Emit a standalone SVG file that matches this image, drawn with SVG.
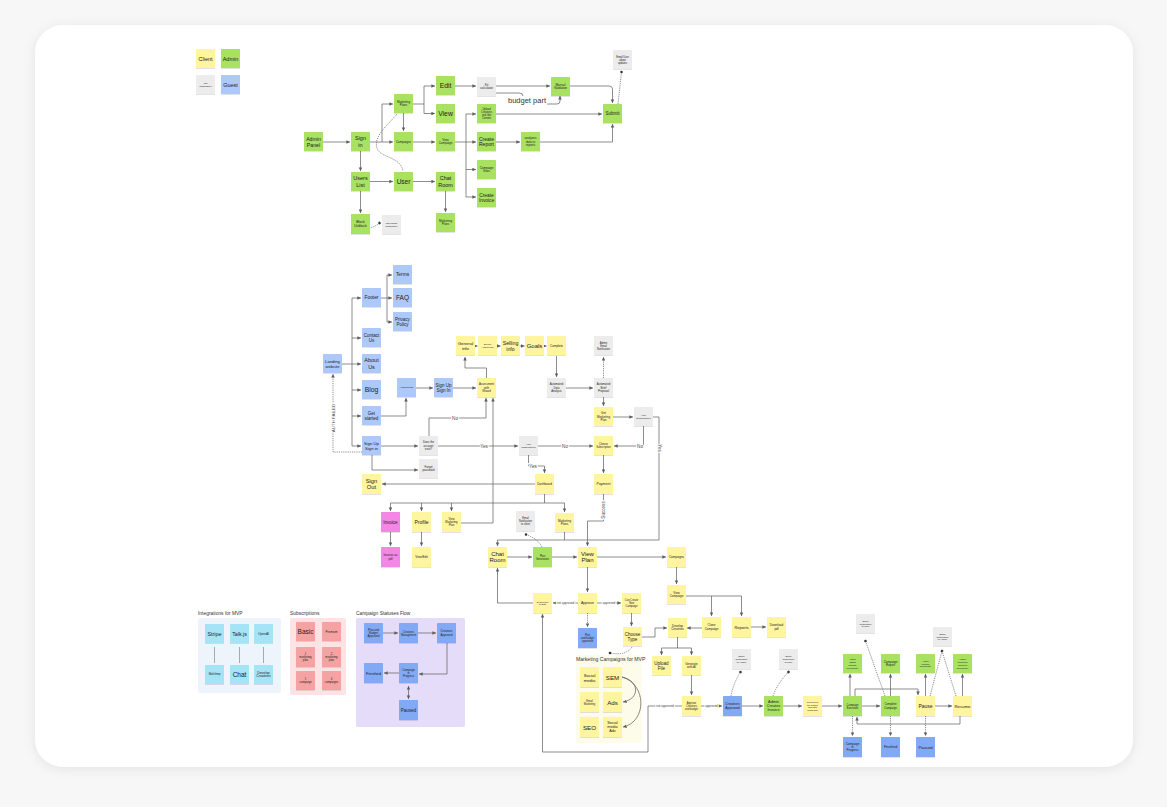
<svg xmlns="http://www.w3.org/2000/svg" width="1167" height="807" viewBox="0 0 1167 807">
<style>
.n{filter:url(#sh)}
.y{fill:#fff59f}.g{fill:#a9e160}.gr{fill:#ececec}.b{fill:#adc9f9}.b2{fill:#82a9f3}.p{fill:#f487e5}.c{fill:#a5e3f7}.s{fill:#f5a2a2}
text{font-family:"Liberation Sans",Arial,sans-serif;fill:#222;text-anchor:middle;dominant-baseline:central}
.ttl{text-anchor:start;dominant-baseline:auto;font-size:4.9px;fill:#333}
.ln{fill:none;stroke:#5c5c5c;stroke-width:0.7}
.ar{marker-end:url(#a)}
.dt{marker-end:url(#d)}
.da{stroke-dasharray:1.2 1}
.lb{font-size:4.6px;fill:#444;stroke:#fff;stroke-width:2.2;paint-order:stroke}
</style>
<defs>
<filter id="sh" x="-20%" y="-20%" width="140%" height="150%"><feDropShadow dx="0" dy="0.6" stdDeviation="0.5" flood-color="#000" flood-opacity="0.18"/></filter>
<filter id="cs" x="-5%" y="-5%" width="110%" height="110%"><feDropShadow dx="0" dy="2" stdDeviation="6" flood-color="#000" flood-opacity="0.08"/></filter>
<marker id="a" markerUnits="userSpaceOnUse" markerWidth="4" markerHeight="4" refX="3.6" refY="1.75" orient="auto"><path d="M0,0 L3.6,1.75 L0,3.5 z" fill="#5c5c5c"/></marker>
<marker id="a2" markerUnits="userSpaceOnUse" markerWidth="4" markerHeight="4" refX="0" refY="1.75" orient="auto"><path d="M3.6,0 L0,1.75 L3.6,3.5 z" fill="#5c5c5c"/></marker>
<marker id="d" markerUnits="userSpaceOnUse" markerWidth="4" markerHeight="4" refX="2" refY="2" orient="auto"><circle cx="2" cy="2" r="1.3" fill="#333"/></marker>
</defs>
<rect x="0" y="0" width="1167" height="807" fill="#f7f7f7"/>
<rect x="35" y="25" width="1098" height="742" rx="28" fill="#fff" filter="url(#cs)"/>

<!-- panels -->
<g id="panel-integrations"><rect x="198" y="618" width="83" height="75" rx="2" fill="#eef4fc"/><text class="ttl" x="198" y="615">Integrations for MVP</text></g>
<g id="panel-subscriptions"><rect x="290" y="618" width="56" height="77" rx="2" fill="#fde3e3"/><text class="ttl" x="290" y="615">Subscriptions</text></g>
<g id="panel-statuses"><rect x="356" y="618" width="109" height="109" rx="2" fill="#e4dcf8"/><text class="ttl" x="356" y="615">Campaign Statuses Flow</text></g>
<g id="panel-mc"><rect x="576" y="655" width="66" height="88" rx="2" fill="#fdfbea"/><text class="ttl" x="576" y="661" style="font-size:5.1px">Marketing Campaigns for MVP</text></g>

<g id="connectors">
<!-- admin -->
<path class="ln ar" d="M323,142 H350"/>
<path class="ln ar" d="M370,142 H393"/>
<path class="ln ar" d="M382,142 V104 H393"/>
<path class="ln ar" d="M403.5,113 V131"/>
<path class="ln ar" d="M360.5,151 V171"/>
<path class="ln ar" d="M370,181.5 H393"/>
<path class="ln ar" d="M413,181.5 H435"/>
<path class="ln ar" d="M445.5,191 V212"/>
<path class="ln ar" d="M360.5,191 V213"/>
<path class="ln ar" d="M413,142 H435"/>
<path class="ln" d="M413,104 H424"/>
<path class="ln ar" d="M424,104 V86 H435"/>
<path class="ln ar" d="M424,104 V113.5 H435"/>
<path class="ln da" d="M397,114 C389,124 373,136 377,148 C380,158 400,156 403,171"/>
<path class="ln da dt" d="M369,228 Q375,227 379.5,223"/>
<path class="ln ar" d="M455,86 H476"/>
<path class="ln ar" d="M496,86 H550"/>
<path class="ln" d="M496,93 H519 Q523,93 523,96"/>
<path class="ln ar" d="M547,104 H557 Q560,104 560,101 V96"/>
<path class="ln ar" d="M569,86 H609 Q612.5,86 612.5,89 V103"/>
<path class="ln ar" d="M496,114 H602"/>
<path class="ln" d="M455,142 H466 M466,114 V197"/>
<path class="ln ar" d="M466,114 H476"/>
<path class="ln ar" d="M466,142 H476"/>
<path class="ln ar" d="M466,169.5 H476"/>
<path class="ln ar" d="M466,197 H476"/>
<path class="ln ar" d="M496,142 H520"/>
<path class="ln ar" d="M540,142 H612.5 V124"/>
<path class="ln da dt" d="M618,104 L621.5,72"/>
<!-- landing -->
<path class="ln" d="M342,364 H352 M352,298 V446"/>
<path class="ln ar" d="M352,298 H361"/>
<path class="ln ar" d="M352,338 H361"/>
<path class="ln ar" d="M352,364 H361"/>
<path class="ln ar" d="M352,390 H361"/>
<path class="ln ar" d="M352,416 H361"/>
<path class="ln ar" d="M352,446 H361"/>
<path class="ln" d="M381,298 H387 M387,275 V322"/>
<path class="ln ar" d="M387,275 H392"/>
<path class="ln ar" d="M387,298 H392"/>
<path class="ln ar" d="M387,322 H392"/>
<path class="ln ar" d="M381,416 H406 V398"/>
<path class="ln ar" d="M415,388 H433"/>
<path class="ln ar" d="M381,446 H418"/>
<path class="ln ar" d="M372,455 V470 H418"/>
<path class="ln da ar" d="M362,452 H333 V374"/>
<path class="ln ar" d="M453,388 H476"/>
<path class="ln ar" d="M486.5,378 V368 H465 V357"/>
<path class="ln ar" d="M475,346 H477.5"/>
<path class="ln ar" d="M497,346 H500.5"/>
<path class="ln ar" d="M520,346 H524.5"/>
<path class="ln ar" d="M544,346 H546.5"/>
<path class="ln ar" d="M556.5,356 V377"/>
<path class="ln ar" d="M566,388 H593"/>
<path class="ln da ar" d="M603.5,378 V357"/>
<path class="ln ar" d="M603.5,397 V406"/>
<path class="ln ar" d="M613,417 H633"/>
<path class="ln ar" d="M643.5,426 V446 H614"/>
<path class="ln ar" d="M438,446 H518"/>
<path class="ln ar" d="M538,446 H593"/>
<path class="ln ar" d="M528.5,455 V466 H544.5 V473"/>
<path class="ln ar" d="M429,436 V418 H486 V398"/>
<path class="ln ar" d="M535,484 H382"/>
<path class="ln ar" d="M461,523 H493 V398"/>
<path class="ln" d="M544.5,494 V503 M390.5,503 H564.5"/>
<path class="ln ar" d="M390.5,503 V511"/>
<path class="ln ar" d="M421.5,503 V511"/>
<path class="ln ar" d="M451.5,503 V511"/>
<path class="ln ar" d="M564.5,503 V512"/>
<path class="ln ar" d="M390.5,532 V546"/>
<path class="ln ar" d="M421.5,532 V546"/>
<path class="ln ar" d="M603.5,455 V473"/>
<path class="ln ar" d="M603.5,494 V521 H587.5 V546"/>
<path class="ln ar" d="M653,417 H659 V540 H497.5 V546"/>
<path class="ln" d="M564.5,532 V540"/>
<path class="ln ar" d="M507,557 H532"/>
<path class="ln ar" d="M552,557 H577"/>
<path class="ln ar" d="M597,557 H666"/>
<path class="ln ar" d="M676.5,567 V584"/>
<path class="ln da dt" d="M542,547 Q538,539 526,534.5"/>
<!-- plan / campaigns -->
<path class="ln ar" d="M587.5,567 V592"/>
<path class="ln ar" d="M578,603 H553"/>
<path class="ln ar" d="M533,603 H497.5 V568"/>
<path class="ln ar" d="M597,603 H621"/>
<path class="ln da ar" d="M587.5,613 V627"/>
<path class="ln ar" d="M631.5,613 V626"/>
<path class="ln ar" d="M642,637 H655 V628 H667"/>
<path class="ln" d="M686,596 H741.5"/>
<path class="ln ar" d="M711.5,596 V616"/>
<path class="ln ar" d="M741.5,596 V616"/>
<path class="ln ar" d="M751,627 H766"/>
<path class="ln ar" d="M702,628 H687"/>
<path class="ln" d="M677.5,637 V648 M661.5,648 H691.5"/>
<path class="ln ar" d="M661.5,648 V655"/>
<path class="ln ar" d="M691.5,648 V655"/>
<path class="ln ar" d="M691.5,675 V695"/>
<path class="ln da dt" d="M632,647 Q626,656 610,653"/>
<path class="ln ar" d="M622,677 C640,681 640,699 623,702"/>
<path class="ln ar" d="M622,677 C647,684 647,722 623,727"/>
<path class="ln ar" d="M682,706 H648 V752 H542.5 V614"/>
<path class="ln ar" d="M701,706 H722"/>
<path class="ln ar" d="M742,706 H763"/>
<path class="ln ar" d="M783,706 H802"/>
<path class="ln ar" d="M822,706 H842"/>
<path class="ln da dt" d="M731,696 Q733,684 740.5,672"/>
<path class="ln da dt" d="M773,696 Q777,684 788.5,672"/>
<path class="ln ar" d="M862,706 H880"/>
<path class="ln ar" d="M935,706 H952"/>
<path class="ln ar" d="M850,696 V674"/>
<path class="ln ar" d="M855,696 V689 H918 V695"/>
<path class="ln ar" d="M890.5,696 V674"/>
<path class="ln ar" d="M925.5,696 V674"/>
<path class="ln ar" d="M962.5,696 V674"/>
<path class="ln ar" d="M960,716 V724 H857 V717"/>
<path class="ln da ar" d="M852.5,716 V736"/>
<path class="ln da ar" d="M890.5,716 V736"/>
<path class="ln da ar" d="M925.5,716 V736"/>
<path class="ln da dt" d="M885,696 L865.5,641"/>
<path class="ln da dt" d="M930,696 L942,651"/>
<path class="ln da" d="M956,696 L942,651"/>
<!-- legend -->
<path class="ln" d="M214.5,647 V663 M239.5,647 V663 M263.5,647 V663" style="stroke:#888"/>
<path class="ln ar" d="M383,633 H398"/>
<path class="ln ar" d="M418,633 H436"/>
<path class="ln ar" d="M447,643 V674 H419"/>
<path class="ln ar" d="M399,673 H384"/>
<path class="ln ar" d="M408.5,686 V699" style="marker-start:url(#a2)"/>
<!-- labels -->
<text class="lb" x="527" y="100" style="font-size:7.5px;fill:#333">budget part</text>
<text class="lb" x="333" y="418" transform="rotate(-90 333 418)" style="font-size:4.4px">AUTH FAILED</text>
<text class="lb" x="455" y="418">No</text>
<text class="lb" x="484" y="446">Yes</text>
<text class="lb" x="565" y="446">No</text>
<text class="lb" x="640" y="446">No</text>
<text class="lb" x="533" y="466">Yes</text>
<text class="lb" x="659" y="448" transform="rotate(90 659 448)">Yes</text>
<text class="lb" x="603.5" y="510" transform="rotate(-90 603.5 510)">Success</text>
<text class="lb" x="565.5" y="603" style="font-size:3px">not approved</text>
<text class="lb" x="609" y="603" style="font-size:3px">approved</text>
<text class="lb" x="665" y="706" style="font-size:3px">not approved</text>
<text class="lb" x="711.5" y="706" style="font-size:3px">approved</text>
</g>

<!-- legend -->
<g id="leg-client"><rect class="n y" x="196" y="49" width="19" height="19" rx="0.6"/><text x="205.5" y="58.5" font-size="5.5">Client</text></g>
<g id="leg-admin"><rect class="n g" x="221" y="49" width="19" height="19" rx="0.6"/><text x="230.5" y="58.5" font-size="5.5">Admin</text></g>
<g id="leg-notsub"><rect class="n gr" x="196" y="75" width="19" height="19" rx="0.6"/><text x="205.5" y="84.5" font-size="2.4"><tspan x="205.5" dy="-1.4">Not</tspan><tspan x="205.5" dy="2.8">submission</tspan></text></g>
<g id="leg-guest"><rect class="n b" x="221" y="75" width="19" height="19" rx="0.6"/><text x="230.5" y="84.5" font-size="5.5">Guest</text></g>

<!-- admin panel flow -->
<g id="admin-panel"><rect class="n g" x="304" y="132" width="19" height="19" rx="0.6"/><text x="313.5" y="141.5" font-size="5.2"><tspan x="313.5" dy="-3">Admin</tspan><tspan x="313.5" dy="6">Panel</tspan></text></g>
<g id="sign-in-admin"><rect class="n g" x="351" y="132" width="19" height="19" rx="0.6"/><text x="360.5" y="141.5" font-size="5.5"><tspan x="360.5" dy="-3.15">Sign</tspan><tspan x="360.5" dy="6.3">in</tspan></text></g>
<g id="marketing-plans-a"><rect class="n g" x="394" y="94" width="19" height="19" rx="0.6"/><text x="403.5" y="103.5" font-size="3"><tspan x="403.5" dy="-1.7">Marketing</tspan><tspan x="403.5" dy="3.4">Plans</tspan></text></g>
<g id="campaigns-a"><rect class="n g" x="394" y="132" width="19" height="19" rx="0.6"/><text x="403.5" y="141.5" font-size="3">Campaigns</text></g>
<g id="edit"><rect class="n g" x="436" y="76" width="19" height="19" rx="0.6"/><text x="445.5" y="85.5" font-size="6.8">Edit</text></g>
<g id="view-a"><rect class="n g" x="436" y="104" width="19" height="19" rx="0.6"/><text x="445.5" y="113.5" font-size="6.8">View</text></g>
<g id="view-campaign-a"><rect class="n g" x="436" y="132" width="19" height="19" rx="0.6"/><text x="445.5" y="141.5" font-size="3"><tspan x="445.5" dy="-1.7">View</tspan><tspan x="445.5" dy="3.4">Campaign</tspan></text></g>
<g id="users-list"><rect class="n g" x="351" y="172" width="19" height="19" rx="0.6"/><text x="360.5" y="181.5" font-size="5.5"><tspan x="360.5" dy="-3.15">Users</tspan><tspan x="360.5" dy="6.3">List</tspan></text></g>
<g id="user"><rect class="n g" x="394" y="172" width="19" height="19" rx="0.6"/><text x="403.5" y="181.5" font-size="6.5">User</text></g>
<g id="chat-room-a"><rect class="n g" x="436" y="172" width="19" height="19" rx="0.6"/><text x="445.5" y="181.5" font-size="5.5"><tspan x="445.5" dy="-3.15">Chat</tspan><tspan x="445.5" dy="6.3">Room</tspan></text></g>
<g id="block-unblock"><rect class="n g" x="351" y="214" width="19" height="20" rx="0.6"/><text x="360.5" y="224" font-size="3.5"><tspan x="360.5" dy="-2">Block</tspan><tspan x="360.5" dy="4">Unblock</tspan></text></g>
<g id="user-email"><rect class="n gr" x="382" y="215" width="19" height="19" rx="0.6"/><text x="391.5" y="224.5" font-size="2.4"><tspan x="391.5" dy="-1.4">User Email</tspan><tspan x="391.5" dy="2.8">Notification</tspan></text></g>
<g id="marketing-plans-b"><rect class="n g" x="436" y="213" width="19" height="19" rx="0.6"/><text x="445.5" y="222.5" font-size="3"><tspan x="445.5" dy="-1.7">Marketing</tspan><tspan x="445.5" dy="3.4">Plans</tspan></text></g>
<g id="kit-calculator"><rect class="n gr" x="477" y="77" width="19" height="19" rx="0.6"/><text x="486.5" y="86.5" font-size="3"><tspan x="486.5" dy="-1.7">Kit</tspan><tspan x="486.5" dy="3.4">calculator</tspan></text></g>
<g id="manual-validation"><rect class="n g" x="551" y="77" width="19" height="19" rx="0.6"/><text x="560.5" y="86.5" font-size="3"><tspan x="560.5" dy="-1.7">Manual</tspan><tspan x="560.5" dy="3.4">Validation</tspan></text></g>
<g id="submit"><rect class="n g" x="603" y="104" width="19" height="19" rx="0.6"/><text x="612.5" y="113.5" font-size="4.5">Submit</text></g>
<g id="email-updates"><rect class="n gr" x="613" y="50" width="19" height="19" rx="0.6"/><text x="622.5" y="59.5" font-size="2.6"><tspan x="622.5" dy="-3">Email User</tspan><tspan x="622.5" dy="3">about</tspan><tspan x="622.5" dy="3">updates</tspan></text></g>
<g id="upload-creatives"><rect class="n g" x="477" y="104" width="19" height="19" rx="0.6"/><text x="486.5" y="113.5" font-size="2.6"><tspan x="486.5" dy="-4.5">Upload</tspan><tspan x="486.5" dy="3">Creatives</tspan><tspan x="486.5" dy="3">and Get</tspan><tspan x="486.5" dy="3">Content</tspan></text></g>
<g id="create-report"><rect class="n g" x="477" y="132" width="19" height="19" rx="0.6"/><text x="486.5" y="141.5" font-size="5"><tspan x="486.5" dy="-2.9">Create</tspan><tspan x="486.5" dy="5.8">Report</tspan></text></g>
<g id="analyzes"><rect class="n g" x="521" y="132" width="19" height="19" rx="0.6"/><text x="530.5" y="141.5" font-size="3"><tspan x="530.5" dy="-3.4">analyzes</tspan><tspan x="530.5" dy="3.4">data to</tspan><tspan x="530.5" dy="3.4">reports</tspan></text></g>
<g id="campaign-stats"><rect class="n g" x="477" y="160" width="19" height="19" rx="0.6"/><text x="486.5" y="169.5" font-size="3"><tspan x="486.5" dy="-1.7">Campaign</tspan><tspan x="486.5" dy="3.4">Stats</tspan></text></g>
<g id="create-invoice"><rect class="n g" x="477" y="188" width="19" height="19" rx="0.6"/><text x="486.5" y="197.5" font-size="4.8"><tspan x="486.5" dy="-2.75">Create</tspan><tspan x="486.5" dy="5.5">Invoice</tspan></text></g>

<!-- landing -->
<g id="terms"><rect class="n b" x="393" y="265" width="19" height="19" rx="0.6"/><text x="402.5" y="274.5" font-size="4.8">Terms</text></g>
<g id="faq"><rect class="n b" x="393" y="288" width="19" height="19" rx="0.6"/><text x="402.5" y="297.5" font-size="6.5">FAQ</text></g>
<g id="privacy"><rect class="n b" x="393" y="312" width="19" height="19" rx="0.6"/><text x="402.5" y="321.5" font-size="4.5"><tspan x="402.5" dy="-2.6">Privacy</tspan><tspan x="402.5" dy="5.2">Policy</tspan></text></g>
<g id="footer"><rect class="n b" x="362" y="288" width="19" height="19" rx="0.6"/><text x="371.5" y="297.5" font-size="4.8">Footer</text></g>
<g id="contact"><rect class="n b" x="362" y="328" width="19" height="19" rx="0.6"/><text x="371.5" y="337.5" font-size="4.5"><tspan x="371.5" dy="-2.6">Contact</tspan><tspan x="371.5" dy="5.2">Us</tspan></text></g>
<g id="about"><rect class="n b" x="362" y="354" width="19" height="19" rx="0.6"/><text x="371.5" y="363.5" font-size="5.5"><tspan x="371.5" dy="-3.15">About</tspan><tspan x="371.5" dy="6.3">Us</tspan></text></g>
<g id="blog"><rect class="n b" x="362" y="380" width="19" height="19" rx="0.6"/><text x="371.5" y="389.5" font-size="6.8">Blog</text></g>
<g id="get-started"><rect class="n b" x="362" y="406" width="19" height="19" rx="0.6"/><text x="371.5" y="415.5" font-size="4.5"><tspan x="371.5" dy="-2.6">Get</tspan><tspan x="371.5" dy="5.2">started</tspan></text></g>
<g id="signup-a"><rect class="n b" x="362" y="436" width="19" height="19" rx="0.6"/><text x="371.5" y="445.5" font-size="4.2"><tspan x="371.5" dy="-2.4">Sign Up</tspan><tspan x="371.5" dy="4.8">Sign in</tspan></text></g>
<g id="landing"><rect class="n b" x="323" y="354" width="19" height="19" rx="0.6"/><text x="332.5" y="363.5" font-size="4.2"><tspan x="332.5" dy="-2.4">Landing</tspan><tspan x="332.5" dy="4.8">website</tspan></text></g>
<g id="sign-out"><rect class="n y" x="362" y="474" width="19" height="20" rx="0.6"/><text x="371.5" y="484" font-size="5.8"><tspan x="371.5" dy="-3.3">Sign</tspan><tspan x="371.5" dy="6.6">Out</tspan></text></g>
<g id="authenticate"><rect class="n b" x="397" y="378" width="19" height="19" rx="0.6"/><text x="406.5" y="387.5" font-size="2.5">Authenticate</text></g>
<g id="signup-b"><rect class="n b" x="434" y="378" width="19" height="19" rx="0.6"/><text x="443.5" y="387.5" font-size="4.5"><tspan x="443.5" dy="-2.6">Sign Up</tspan><tspan x="443.5" dy="5.2">Sign In</tspan></text></g>
<g id="account-exist"><rect class="n gr" x="419" y="436" width="19" height="19" rx="0.6"/><text x="428.5" y="445.5" font-size="2.8"><tspan x="428.5" dy="-3.2">Does the</tspan><tspan x="428.5" dy="3.2">account</tspan><tspan x="428.5" dy="3.2">exist?</tspan></text></g>
<g id="forgot"><rect class="n gr" x="419" y="459" width="19" height="19" rx="0.6"/><text x="428.5" y="468.5" font-size="2.8"><tspan x="428.5" dy="-1.6">Forgot</tspan><tspan x="428.5" dy="3.2">password</tspan></text></g>
<g id="general-info"><rect class="n y" x="456" y="336" width="19" height="19" rx="0.6"/><text x="465.5" y="345.5" font-size="4.4"><tspan x="465.5" dy="-2.5">General</tspan><tspan x="465.5" dy="5">info</tspan></text></g>
<g id="source"><rect class="n y" x="478" y="336" width="19" height="19" rx="0.6"/><text x="487.5" y="345.5" font-size="2.4"><tspan x="487.5" dy="-1.4">Source</tspan><tspan x="487.5" dy="2.8">Awareness</tspan></text></g>
<g id="selling"><rect class="n y" x="501" y="336" width="19" height="19" rx="0.6"/><text x="510.5" y="345.5" font-size="5.2"><tspan x="510.5" dy="-3">Selling</tspan><tspan x="510.5" dy="6">info</tspan></text></g>
<g id="goals"><rect class="n y" x="525" y="336" width="19" height="19" rx="0.6"/><text x="534.5" y="345.5" font-size="6">Goals</text></g>
<g id="complete"><rect class="n y" x="547" y="336" width="19" height="19" rx="0.6"/><text x="556.5" y="345.5" font-size="3">Complete</text></g>
<g id="assessment"><rect class="n y" x="477" y="378" width="19" height="19" rx="0.6"/><text x="486.5" y="387.5" font-size="2.8"><tspan x="486.5" dy="-3.2">Assessment</tspan><tspan x="486.5" dy="3.2">with</tspan><tspan x="486.5" dy="3.2">Wizard</tspan></text></g>
<g id="auto-data"><rect class="n gr" x="547" y="378" width="19" height="19" rx="0.6"/><text x="556.5" y="387.5" font-size="2.8"><tspan x="556.5" dy="-3.2">Automated</tspan><tspan x="556.5" dy="3.2">Data</tspan><tspan x="556.5" dy="3.2">Analysis</tspan></text></g>
<g id="auto-brief"><rect class="n gr" x="594" y="378" width="19" height="19" rx="0.6"/><text x="603.5" y="387.5" font-size="2.8"><tspan x="603.5" dy="-3.2">Automated</tspan><tspan x="603.5" dy="3.2">Brief</tspan><tspan x="603.5" dy="3.2">Proposal</tspan></text></g>
<g id="admin-email"><rect class="n gr" x="594" y="336" width="19" height="19" rx="0.6"/><text x="603.5" y="345.5" font-size="2.6"><tspan x="603.5" dy="-3">Admin</tspan><tspan x="603.5" dy="3">Email</tspan><tspan x="603.5" dy="3">Notification</tspan></text></g>
<g id="get-marketing-plan"><rect class="n y" x="594" y="407" width="19" height="19" rx="0.6"/><text x="603.5" y="416.5" font-size="3"><tspan x="603.5" dy="-3.4">Get</tspan><tspan x="603.5" dy="3.4">Marketing</tspan><tspan x="603.5" dy="3.4">Plan</tspan></text></g>
<g id="has-sub-r"><rect class="n gr" x="634" y="407" width="19" height="19" rx="0.6"/><text x="643.5" y="416.5" font-size="2.4"><tspan x="643.5" dy="-1.4">Has</tspan><tspan x="643.5" dy="2.8">Subscription?</tspan></text></g>
<g id="has-sub-c"><rect class="n gr" x="519" y="436" width="19" height="19" rx="0.6"/><text x="528.5" y="445.5" font-size="2.4"><tspan x="528.5" dy="-1.4">Has</tspan><tspan x="528.5" dy="2.8">subscription?</tspan></text></g>
<g id="choose-sub"><rect class="n y" x="594" y="436" width="19" height="19" rx="0.6"/><text x="603.5" y="445.5" font-size="2.6"><tspan x="603.5" dy="-1.5">Choose</tspan><tspan x="603.5" dy="3">Subscription</tspan></text></g>
<g id="payment"><rect class="n y" x="594" y="474" width="19" height="20" rx="0.6"/><text x="603.5" y="484" font-size="3.5">Payment</text></g>
<g id="dashboard"><rect class="n y" x="535" y="474" width="19" height="20" rx="0.6"/><text x="544.5" y="484" font-size="3">Dashboard</text></g>
<g id="invoice"><rect class="n p" x="381" y="512" width="19" height="20" rx="0.6"/><text x="390.5" y="522" font-size="4.5">Invoice</text></g>
<g id="profile"><rect class="n y" x="412" y="512" width="19" height="20" rx="0.6"/><text x="421.5" y="522" font-size="5">Profile</text></g>
<g id="view-marketing-plan"><rect class="n y" x="442" y="512" width="19" height="20" rx="0.6"/><text x="451.5" y="522" font-size="2.8"><tspan x="451.5" dy="-3.2">View</tspan><tspan x="451.5" dy="3.2">Marketing</tspan><tspan x="451.5" dy="3.2">Plan</tspan></text></g>
<g id="invoices-pdf"><rect class="n p" x="381" y="547" width="19" height="20" rx="0.6"/><text x="390.5" y="557" font-size="2.8"><tspan x="390.5" dy="-1.6">Invoices as</tspan><tspan x="390.5" dy="3.2">pdf</tspan></text></g>
<g id="view-edit"><rect class="n y" x="412" y="547" width="19" height="20" rx="0.6"/><text x="421.5" y="557" font-size="3">View/Edit</text></g>
<g id="email-client"><rect class="n gr" x="516" y="511" width="19" height="20" rx="0.6"/><text x="525.5" y="521" font-size="2.6"><tspan x="525.5" dy="-3">Email</tspan><tspan x="525.5" dy="3">Notification</tspan><tspan x="525.5" dy="3">to client</tspan></text></g>
<g id="marketing-plans-c"><rect class="n y" x="555" y="513" width="19" height="19" rx="0.6"/><text x="564.5" y="522.5" font-size="3"><tspan x="564.5" dy="-1.7">Marketing</tspan><tspan x="564.5" dy="3.4">Plans</tspan></text></g>
<g id="chat-room-b"><rect class="n y" x="488" y="547" width="19" height="20" rx="0.6"/><text x="497.5" y="557" font-size="6"><tspan x="497.5" dy="-3.45">Chat</tspan><tspan x="497.5" dy="6.9">Room</tspan></text></g>
<g id="plan-generation"><rect class="n g" x="533" y="547" width="19" height="20" rx="0.6"/><text x="542.5" y="557" font-size="2.6"><tspan x="542.5" dy="-1.5">Plan</tspan><tspan x="542.5" dy="3">Generation</tspan></text></g>
<g id="view-plan"><rect class="n y" x="578" y="547" width="19" height="20" rx="0.6"/><text x="587.5" y="557" font-size="6"><tspan x="587.5" dy="-3.45">View</tspan><tspan x="587.5" dy="6.9">Plan</tspan></text></g>
<g id="campaigns-b"><rect class="n y" x="667" y="547" width="19" height="20" rx="0.6"/><text x="676.5" y="557" font-size="3">Campaigns</text></g>
<g id="view-campaign-b"><rect class="n y" x="667" y="585" width="19" height="19" rx="0.6"/><text x="676.5" y="594.5" font-size="3"><tspan x="676.5" dy="-1.7">View</tspan><tspan x="676.5" dy="3.4">Campaign</tspan></text></g>
<g id="approve"><rect class="n y" x="578" y="593" width="19" height="20" rx="0.6"/><text x="587.5" y="603" font-size="3.5">Approve</text></g>
<g id="send-back"><rect class="n y" x="533" y="593" width="19" height="20" rx="0.6"/><text x="542.5" y="603" font-size="2.5"><tspan x="542.5" dy="-1.45">Send back</tspan><tspan x="542.5" dy="2.9">to Edit</tspan></text></g>
<g id="can-create"><rect class="n y" x="622" y="593" width="19" height="20" rx="0.6"/><text x="631.5" y="603" font-size="2.6"><tspan x="631.5" dy="-3">Can Create</tspan><tspan x="631.5" dy="3">New</tspan><tspan x="631.5" dy="3">Campaign</tspan></text></g>
<g id="plan-budget-approved"><rect class="n b2" x="578" y="628" width="19" height="20" rx="0.6"/><text x="587.5" y="638" font-size="2.6"><tspan x="587.5" dy="-3">Plan</tspan><tspan x="587.5" dy="3">and budget</tspan><tspan x="587.5" dy="3">approved</tspan></text></g>
<g id="choose-type"><rect class="n y" x="623" y="627" width="19" height="19" rx="0.6"/><text x="632.5" y="636.5" font-size="4.5"><tspan x="632.5" dy="-2.6">Choose</tspan><tspan x="632.5" dy="5.2">Type</tspan></text></g>
<g id="develop-creatives"><rect class="n y" x="668" y="618" width="19" height="19" rx="0.6"/><text x="677.5" y="627.5" font-size="3"><tspan x="677.5" dy="-1.7">Develop</tspan><tspan x="677.5" dy="3.4">Creatives</tspan></text></g>
<g id="clone-campaign"><rect class="n y" x="702" y="617" width="19" height="20" rx="0.6"/><text x="711.5" y="627" font-size="3"><tspan x="711.5" dy="-1.7">Clone</tspan><tspan x="711.5" dy="3.4">Campaign</tspan></text></g>
<g id="reports"><rect class="n y" x="732" y="617" width="19" height="20" rx="0.6"/><text x="741.5" y="627" font-size="4">Reports</text></g>
<g id="download-pdf"><rect class="n y" x="767" y="617" width="19" height="20" rx="0.6"/><text x="776.5" y="627" font-size="3"><tspan x="776.5" dy="-1.7">Download</tspan><tspan x="776.5" dy="3.4">pdf</tspan></text></g>
<g id="upload-file"><rect class="n y" x="652" y="656" width="19" height="19" rx="0.6"/><text x="661.5" y="665.5" font-size="4.5"><tspan x="661.5" dy="-2.6">Upload</tspan><tspan x="661.5" dy="5.2">File</tspan></text></g>
<g id="generate-ai"><rect class="n y" x="682" y="656" width="19" height="19" rx="0.6"/><text x="691.5" y="665.5" font-size="3"><tspan x="691.5" dy="-1.7">Generate</tspan><tspan x="691.5" dy="3.4">with AI</tspan></text></g>
<g id="approve-creatives"><rect class="n y" x="682" y="696" width="19" height="20" rx="0.6"/><text x="691.5" y="706" font-size="2.6"><tspan x="691.5" dy="-3">Approve</tspan><tspan x="691.5" dy="3">Creatives</tspan><tspan x="691.5" dy="3">and budget</tspan></text></g>
<g id="creatives-approved"><rect class="n b2" x="723" y="696" width="19" height="20" rx="0.6"/><text x="732.5" y="706" font-size="3.4"><tspan x="732.5" dy="-1.95">Creatives</tspan><tspan x="732.5" dy="3.9">Approved</tspan></text></g>
<g id="email-admin-a"><rect class="n gr" x="732" y="649" width="19" height="20" rx="0.6"/><text x="741.5" y="659" font-size="2.4"><tspan x="741.5" dy="-2.8">Email</tspan><tspan x="741.5" dy="2.8">Notification</tspan><tspan x="741.5" dy="2.8">to Admin</tspan></text></g>
<g id="admin-invoice"><rect class="n g" x="764" y="696" width="19" height="20" rx="0.6"/><text x="773.5" y="706" font-size="3.8"><tspan x="773.5" dy="-4.4">Admin</tspan><tspan x="773.5" dy="4.4">Creates</tspan><tspan x="773.5" dy="4.4">Invoice</tspan></text></g>
<g id="email-user-a"><rect class="n gr" x="779" y="649" width="19" height="20" rx="0.6"/><text x="788.5" y="659" font-size="2.4"><tspan x="788.5" dy="-2.8">Email</tspan><tspan x="788.5" dy="2.8">Notification</tspan><tspan x="788.5" dy="2.8">to User</tspan></text></g>
<g id="client-pays"><rect class="n y" x="803" y="696" width="19" height="20" rx="0.6"/><text x="812.5" y="706" font-size="2.3"><tspan x="812.5" dy="-4.05">Client pays</tspan><tspan x="812.5" dy="2.7">the budget</tspan><tspan x="812.5" dy="2.7">and start</tspan><tspan x="812.5" dy="2.7">Campaign</tspan></text></g>
<g id="social-media"><rect class="n y" x="580" y="667" width="19" height="20" rx="0.6"/><text x="589.5" y="677" font-size="4.3"><tspan x="589.5" dy="-2.5">Social</tspan><tspan x="589.5" dy="5">media</tspan></text></g>
<g id="sem"><rect class="n y" x="603" y="667" width="19" height="20" rx="0.6"/><text x="612.5" y="677" font-size="6.2">SEM</text></g>
<g id="email-marketing"><rect class="n y" x="580" y="692" width="19" height="20" rx="0.6"/><text x="589.5" y="702" font-size="2.6"><tspan x="589.5" dy="-1.5">Email</tspan><tspan x="589.5" dy="3">Marketing</tspan></text></g>
<g id="ads"><rect class="n y" x="603" y="692" width="19" height="20" rx="0.6"/><text x="612.5" y="702" font-size="6.2">Ads</text></g>
<g id="seo"><rect class="n y" x="580" y="717" width="19" height="20" rx="0.6"/><text x="589.5" y="727" font-size="6.2">SEO</text></g>
<g id="social-ads"><rect class="n y" x="603" y="717" width="19" height="20" rx="0.6"/><text x="612.5" y="727" font-size="3.8"><tspan x="612.5" dy="-4.4">Social</tspan><tspan x="612.5" dy="4.4">media</tspan><tspan x="612.5" dy="4.4">Ads</tspan></text></g>

<!-- execution -->
<g id="campaign-execution"><rect class="n g" x="843" y="696" width="19" height="20" rx="0.6"/><text x="852.5" y="706" font-size="2.6"><tspan x="852.5" dy="-1.5">Campaign</tspan><tspan x="852.5" dy="3">Execution</tspan></text></g>
<g id="complete-campaign"><rect class="n g" x="881" y="696" width="19" height="20" rx="0.6"/><text x="890.5" y="706" font-size="2.8"><tspan x="890.5" dy="-1.6">Complete</tspan><tspan x="890.5" dy="3.2">Campaign</tspan></text></g>
<g id="pause"><rect class="n y" x="916" y="696" width="19" height="20" rx="0.6"/><text x="925.5" y="706" font-size="5">Pause</text></g>
<g id="resume"><rect class="n y" x="953" y="696" width="19" height="20" rx="0.6"/><text x="962.5" y="706" font-size="4.3">Resume</text></g>
<g id="admin-starts"><rect class="n g" x="843" y="654" width="19" height="19" rx="0.6"/><text x="852.5" y="663.5" font-size="2.4"><tspan x="852.5" dy="-4.2">Admin</tspan><tspan x="852.5" dy="2.8">Starts</tspan><tspan x="852.5" dy="2.8">activate</tspan><tspan x="852.5" dy="2.8">accordingly</tspan></text></g>
<g id="campaign-report"><rect class="n g" x="881" y="654" width="19" height="19" rx="0.6"/><text x="890.5" y="663.5" font-size="3"><tspan x="890.5" dy="-1.7">Campaign</tspan><tspan x="890.5" dy="3.4">Report</tspan></text></g>
<g id="admin-pauses"><rect class="n g" x="916" y="654" width="19" height="19" rx="0.6"/><text x="925.5" y="663.5" font-size="2.4"><tspan x="925.5" dy="-2.8">Admin</tspan><tspan x="925.5" dy="2.8">Pauses</tspan><tspan x="925.5" dy="2.8">accordingly</tspan></text></g>
<g id="admin-resumes"><rect class="n g" x="953" y="654" width="19" height="19" rx="0.6"/><text x="962.5" y="663.5" font-size="2.4"><tspan x="962.5" dy="-4.2">Admin</tspan><tspan x="962.5" dy="2.8">Resumes</tspan><tspan x="962.5" dy="2.8">activities</tspan><tspan x="962.5" dy="2.8">accordingly</tspan></text></g>
<g id="email-user-b"><rect class="n gr" x="856" y="614" width="19" height="19" rx="0.6"/><text x="865.5" y="623.5" font-size="2.4"><tspan x="865.5" dy="-2.8">Email</tspan><tspan x="865.5" dy="2.8">Notification</tspan><tspan x="865.5" dy="2.8">to User</tspan></text></g>
<g id="email-admin-b"><rect class="n gr" x="933" y="627" width="19" height="19" rx="0.6"/><text x="942.5" y="636.5" font-size="2.4"><tspan x="942.5" dy="-2.8">Email</tspan><tspan x="942.5" dy="2.8">Notification</tspan><tspan x="942.5" dy="2.8">to Admin</tspan></text></g>
<g id="campaign-in-progress"><rect class="n b2" x="843" y="737" width="19" height="20" rx="0.6"/><text x="852.5" y="747" font-size="3"><tspan x="852.5" dy="-3.4">Campaign</tspan><tspan x="852.5" dy="3.4">in</tspan><tspan x="852.5" dy="3.4">Progress</tspan></text></g>
<g id="finished"><rect class="n b2" x="881" y="737" width="19" height="20" rx="0.6"/><text x="890.5" y="747" font-size="3.5">Finished</text></g>
<g id="paused"><rect class="n b2" x="916" y="737" width="19" height="20" rx="0.6"/><text x="925.5" y="747" font-size="4.2">Paused</text></g>

<!-- integrations -->
<g id="stripe"><rect class="n c" x="205" y="624" width="19" height="19" rx="0.6"/><text x="214.5" y="633.5" font-size="5.3">Stripe</text></g>
<g id="talkjs"><rect class="n c" x="230" y="624" width="19" height="19" rx="0.6"/><text x="239.5" y="633.5" font-size="5.3">Talk.js</text></g>
<g id="openai"><rect class="n c" x="254" y="624" width="19" height="19" rx="0.6"/><text x="263.5" y="633.5" font-size="3.2">OpenAI</text></g>
<g id="mailchimp"><rect class="n c" x="205" y="665" width="19" height="19" rx="0.6"/><text x="214.5" y="674.5" font-size="2.6">Mailchimp</text></g>
<g id="chat"><rect class="n c" x="230" y="665" width="19" height="19" rx="0.6"/><text x="239.5" y="674.5" font-size="6.5">Chat</text></g>
<g id="develop-creatives-int"><rect class="n c" x="254" y="665" width="19" height="19" rx="0.6"/><text x="263.5" y="674.5" font-size="3.4"><tspan x="263.5" dy="-1.95">Develop</tspan><tspan x="263.5" dy="3.9">Creatives</tspan></text></g>
<!-- subscriptions -->
<g id="basic"><rect class="n s" x="296" y="622" width="19" height="19" rx="0.6"/><text x="305.5" y="631.5" font-size="6.5">Basic</text></g>
<g id="premium"><rect class="n s" x="322" y="622" width="19" height="19" rx="0.6"/><text x="331.5" y="631.5" font-size="3">Premium</text></g>
<g id="basic-plans"><rect class="n s" x="296" y="647" width="19" height="20" rx="0.6"/><text x="305.5" y="657" font-size="2.8"><tspan x="305.5" dy="-3.2">1</tspan><tspan x="305.5" dy="3.2">marketing</tspan><tspan x="305.5" dy="3.2">plan</tspan></text></g>
<g id="premium-plans"><rect class="n s" x="322" y="647" width="19" height="20" rx="0.6"/><text x="331.5" y="657" font-size="2.8"><tspan x="331.5" dy="-3.2">2</tspan><tspan x="331.5" dy="3.2">marketing</tspan><tspan x="331.5" dy="3.2">plan</tspan></text></g>
<g id="basic-campaigns"><rect class="n s" x="296" y="671" width="19" height="19" rx="0.6"/><text x="305.5" y="680.5" font-size="2.8"><tspan x="305.5" dy="-1.6">1</tspan><tspan x="305.5" dy="3.2">campaign</tspan></text></g>
<g id="premium-campaigns"><rect class="n s" x="322" y="671" width="19" height="19" rx="0.6"/><text x="331.5" y="680.5" font-size="2.8"><tspan x="331.5" dy="-1.6">4</tspan><tspan x="331.5" dy="3.2">campaigns</tspan></text></g>
<!-- statuses -->
<g id="st-plan-budget"><rect class="n b2" x="364" y="623" width="19" height="20" rx="0.6"/><text x="373.5" y="633" font-size="2.8"><tspan x="373.5" dy="-3.2">Plan and</tspan><tspan x="373.5" dy="3.2">Budget</tspan><tspan x="373.5" dy="3.2">Approved</tspan></text></g>
<g id="st-creatives-mgmt"><rect class="n b2" x="399" y="623" width="19" height="20" rx="0.6"/><text x="408.5" y="633" font-size="2.6"><tspan x="408.5" dy="-1.5">Creatives</tspan><tspan x="408.5" dy="3">Management</tspan></text></g>
<g id="st-creatives-approved"><rect class="n b2" x="437" y="623" width="19" height="20" rx="0.6"/><text x="446.5" y="633" font-size="2.8"><tspan x="446.5" dy="-1.6">Creatives</tspan><tspan x="446.5" dy="3.2">Approved</tspan></text></g>
<g id="st-in-progress"><rect class="n b2" x="399" y="663" width="19" height="20" rx="0.6"/><text x="408.5" y="673" font-size="2.8"><tspan x="408.5" dy="-3.2">Campaign</tspan><tspan x="408.5" dy="3.2">in</tspan><tspan x="408.5" dy="3.2">Progress</tspan></text></g>
<g id="st-finished"><rect class="n b2" x="364" y="663" width="19" height="20" rx="0.6"/><text x="373.5" y="673" font-size="4">Finished</text></g>
<g id="st-paused"><rect class="n b2" x="399" y="700" width="19" height="20" rx="0.6"/><text x="408.5" y="710" font-size="4.5">Paused</text></g>
</svg>
